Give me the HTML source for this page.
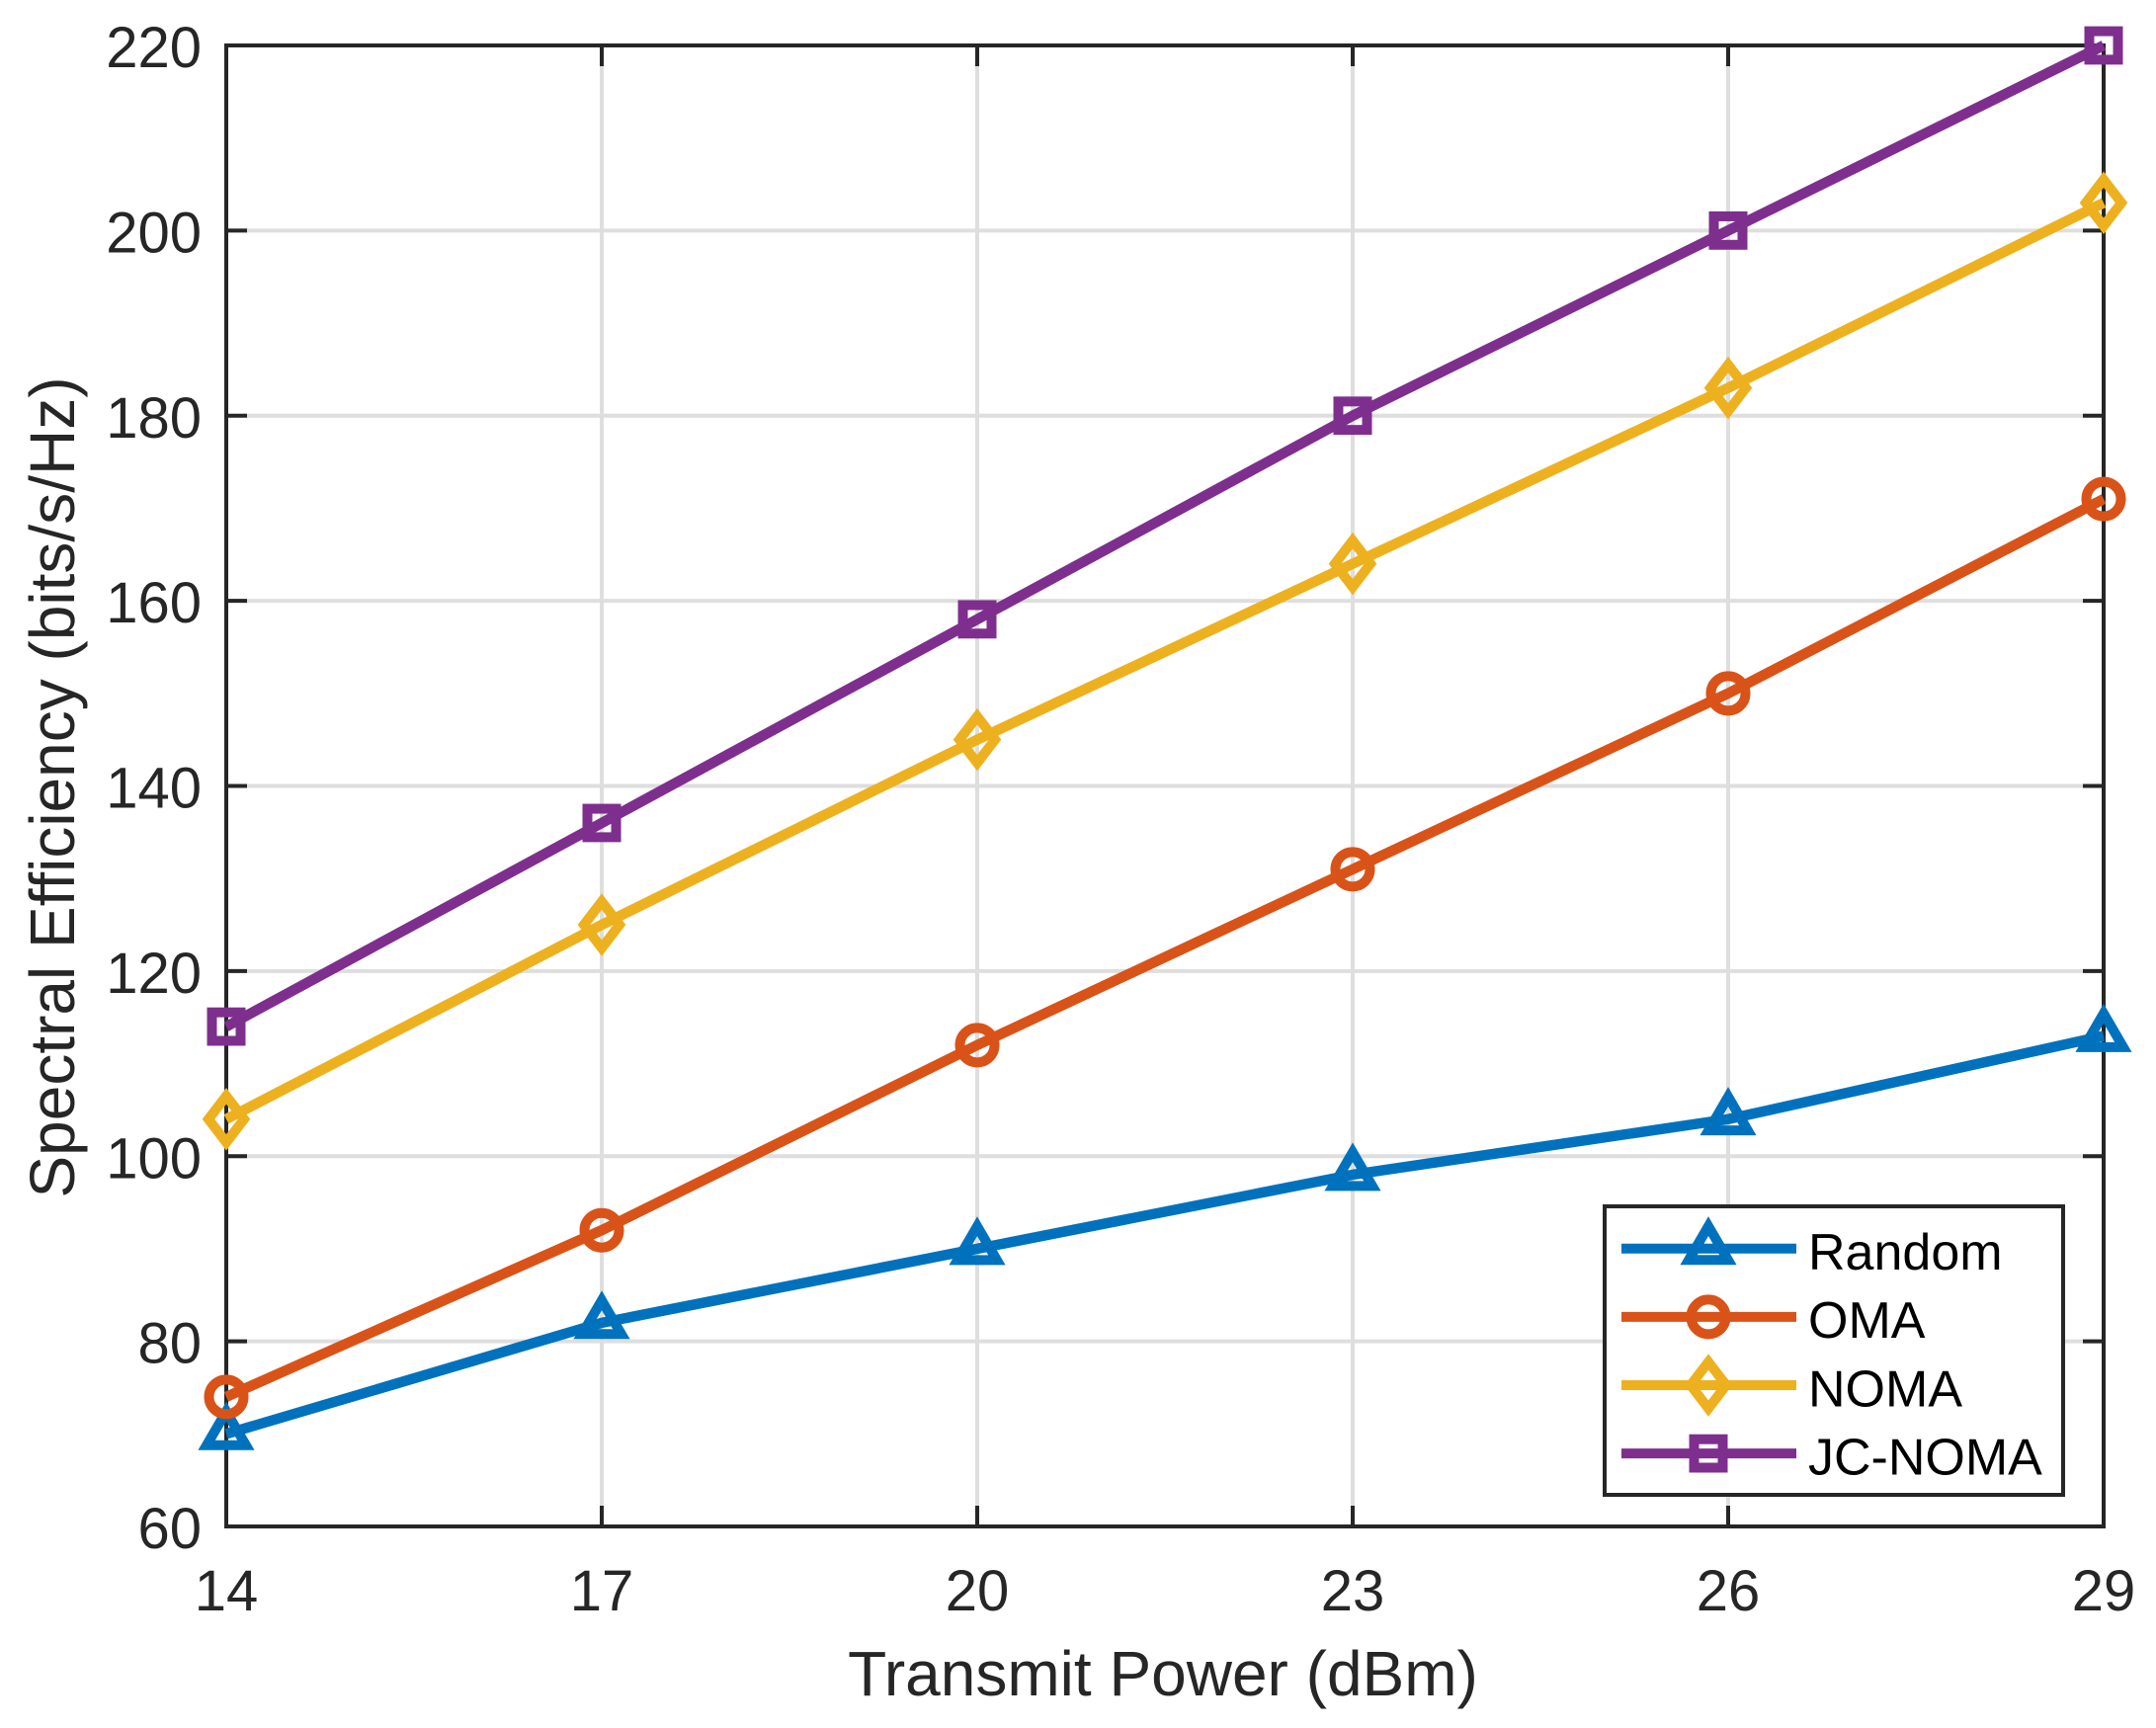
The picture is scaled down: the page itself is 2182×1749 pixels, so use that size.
<!DOCTYPE html>
<html lang="en">
<head>
<meta charset="utf-8">
<title>Spectral Efficiency vs Transmit Power</title>
<style>
html,body{margin:0;padding:0;background:#fff;}
svg{display:block;}
text{font-family:"Liberation Sans",Arial,sans-serif;}
</style>
</head>
<body>
<svg id="chart" xmlns="http://www.w3.org/2000/svg" width="2182" height="1749" viewBox="0 0 2182 1749"></svg>
<script>
const categories = [14, 17, 20, 23, 26, 29];
const yTickLabels = [60, 80, 100, 120, 140, 160, 180, 200, 220];
const randomValues = [70, 82, 90, 98, 104, 113];
const omaValues = [74, 92, 112, 131, 150, 171];
const nomaValues = [104, 125, 145, 164, 183, 203];
const jcNomaValues = [114, 136, 158, 180, 200, 220];
const seriesNames = ['Random', 'OMA', 'NOMA', 'JC-NOMA'];
const seriesValues = [randomValues, omaValues, nomaValues, jcNomaValues];

const colors = ['#0072BD', '#D95319', '#EDB120', '#7E2F8E'];
const shapes = ['triangle', 'circle', 'diamond', 'square'];
const plot = {left: 229, right: 2129, top: 46, bottom: 1545};
const xMin = 14, xMax = 29, yMin = 60, yMax = 220;
const axisColor = '#262626', gridColor = '#dedede';
const NS = 'http://www.w3.org/2000/svg';
const svg = document.getElementById('chart');

function xScale(v) { return plot.left + (v - xMin) / (xMax - xMin) * (plot.right - plot.left); }
function yScale(v) { return plot.bottom - (v - yMin) / (yMax - yMin) * (plot.bottom - plot.top); }

function make(tag, attrs, parent) {
  const el = document.createElementNS(NS, tag);
  for (const k in attrs) el.setAttribute(k, attrs[k]);
  (parent || svg).appendChild(el);
  return el;
}

function drawMarker(shape, cx, cy, color, parent) {
  const style = {fill: 'none', stroke: color, 'stroke-width': 10, 'stroke-linejoin': 'miter', 'stroke-miterlimit': 20};
  let el;
  if (shape === 'circle') {
    el = make('circle', Object.assign({cx: cx, cy: cy, r: 17.5}, style), parent);
  } else if (shape === 'square') {
    el = make('rect', Object.assign({x: cx - 14.5, y: cy - 14.4, width: 29, height: 28.8}, style), parent);
  } else if (shape === 'diamond') {
    const pts = [[cx, cy - 23.5], [cx + 18, cy], [cx, cy + 23.5], [cx - 18, cy]];
    el = make('polygon', Object.assign({points: pts.join(' ')}, style), parent);
  } else {
    const pts = [[cx, cy - 22.7], [cx + 19.85, cy + 11.4], [cx - 19.85, cy + 11.4]];
    el = make('polygon', Object.assign({points: pts.join(' ')}, style), parent);
  }
  
  
  return el;
}

/* background */
const plotBg = make('rect', {x: plot.left, y: plot.top, width: plot.right - plot.left, height: plot.bottom - plot.top, fill: '#fff'});



/* grid */
const gridGroup = make('g', {stroke: gridColor, 'stroke-width': 4});


categories.slice(1, -1).forEach(function (c) {
  const gx = make('line', {x1: xScale(c), x2: xScale(c), y1: plot.top, y2: plot.bottom}, gridGroup);
  
  
});
yTickLabels.slice(1, -1).forEach(function (t) {
  const gy = make('line', {x1: plot.left, x2: plot.right, y1: yScale(t), y2: yScale(t)}, gridGroup);
  
  
});

/* ticks */
const tickGroup = make('g', {stroke: axisColor, 'stroke-width': 4});


const tickLen = 21;
categories.forEach(function (c) {
  const x = xScale(c);
  const t1 = make('line', {x1: x, x2: x, y1: plot.bottom, y2: plot.bottom - tickLen}, tickGroup);
  
  
  const t2 = make('line', {x1: x, x2: x, y1: plot.top, y2: plot.top + tickLen}, tickGroup);
  
  
});
yTickLabels.forEach(function (t) {
  const y = yScale(t);
  const t1 = make('line', {x1: plot.left, x2: plot.left + tickLen, y1: y, y2: y}, tickGroup);
  
  
  const t2 = make('line', {x1: plot.right, x2: plot.right - tickLen, y1: y, y2: y}, tickGroup);
  
  
});

/* axes box */
const axesBox = make('rect', {x: plot.left, y: plot.top, width: plot.right - plot.left, height: plot.bottom - plot.top, fill: 'none', stroke: axisColor, 'stroke-width': 4});



/* tick labels */
categories.forEach(function (c) {
  const lbl = make('text', {x: xScale(c), y: 1630, 'text-anchor': 'middle', 'font-size': 58, fill: axisColor});
  lbl.textContent = String(c);
  
  
});
yTickLabels.forEach(function (t) {
  const lbl = make('text', {x: 204, y: yScale(t) + 22, 'text-anchor': 'end', 'font-size': 58, fill: axisColor});
  lbl.textContent = String(t);
  
  
});

/* axis titles */
const xTitle = make('text', {x: 1177, y: 1716, 'text-anchor': 'middle', 'font-size': 64, fill: axisColor});
xTitle.textContent = 'Transmit Power (dBm)';



const yTitle = make('text', {transform: 'translate(75 797) rotate(-90)', 'text-anchor': 'middle', 'font-size': 64, fill: axisColor});
yTitle.textContent = 'Spectral Efficiency (bits/s/Hz)';



/* series */
seriesValues.forEach(function (values, i) {
  const g = make('g', {});
  
  
  const pts = values.map(function (v, j) { return xScale(categories[j]) + ',' + yScale(v); }).join(' ');
  const line = make('polyline', {points: pts, fill: 'none', stroke: colors[i], 'stroke-width': 10.5, 'stroke-linejoin': 'round'}, g);
  
  
  values.forEach(function (v, j) {
    drawMarker(shapes[i], xScale(categories[j]), yScale(v), colors[i], g);
  });
});

/* legend */
const legend = make('g', {});


const legendBox = make('rect', {x: 1624, y: 1221, width: 464, height: 292, fill: '#fff', stroke: axisColor, 'stroke-width': 4}, legend);


seriesNames.forEach(function (name, i) {
  const cy = 1263.8 + i * 69.1;
  const entry = make('g', {}, legend);
  
  
  const ln = make('line', {x1: 1641, x2: 1818, y1: cy, y2: cy, stroke: colors[i], 'stroke-width': 10}, entry);
  
  
  drawMarker(shapes[i], 1729, cy, colors[i], entry);
  const tx = make('text', {x: 1830, y: cy + 21.3, 'font-size': 52, fill: '#000'}, entry);
  tx.textContent = name;
  
  
});
</script>
</body>
</html>
